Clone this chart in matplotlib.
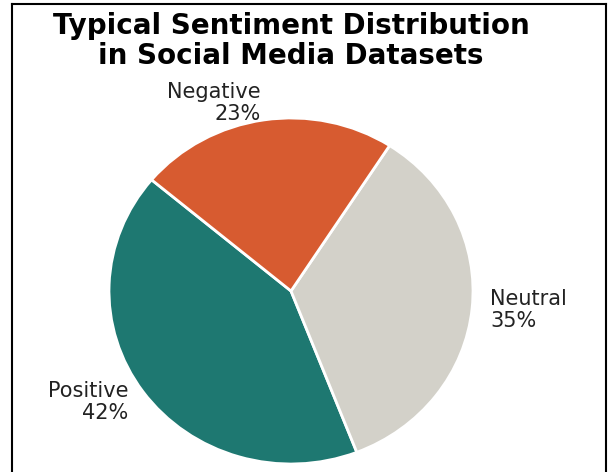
import matplotlib.pyplot as plt
from matplotlib.lines import Line2D

labels = ["Positive", "Neutral", "Negative"]
shares = [42, 35, 23]
colors = ["#1e7871", "#d3d1c9", "#d75b30"]

W, H, DPI = 611, 472, 100
fig = plt.figure(figsize=(W / DPI, H / DPI), dpi=DPI)

# pie centre and radii in pixels (from the top-left); the source is slightly squashed vertically
cx, cy, rx, ry = 291, 291, 182, 173
ax = fig.add_axes([(cx - rx) / W, (H - cy - ry) / H, 2 * rx / W, 2 * ry / H])

pie_labels = [f"{name}\n{val}%" for name, val in zip(labels, shares)]
ax.pie(
    shares,
    labels=pie_labels,
    colors=colors,
    startangle=140,
    labeldistance=1.1,
    wedgeprops={"edgecolor": "white", "linewidth": 2},
    textprops={"fontsize": 15, "color": "#222222", "linespacing": 1.15},
)
ax.set_xlim(-1, 1)
ax.set_ylim(-1, 1)
ax.set_aspect("auto")
for t in ax.texts:
    t.set_clip_on(False)

fig.text(
    cx / W,
    1 - 41 / H,
    "Typical Sentiment Distribution\nin Social Media Datasets",
    ha="center",
    va="center",
    fontsize=20,
    fontweight="bold",
    linespacing=1.05,
)

# screenshot frame
for xs, ys in [((12, 12), (4, H + 5)), ((12, 606), (4, 4)), ((606, 606), (4, H + 5))]:
    fig.add_artist(
        Line2D(
            [x / W for x in xs],
            [1 - y / H for y in ys],
            transform=fig.transFigure,
            color="black",
            linewidth=1.5,
        )
    )

fig.savefig("out.png", dpi=DPI)
